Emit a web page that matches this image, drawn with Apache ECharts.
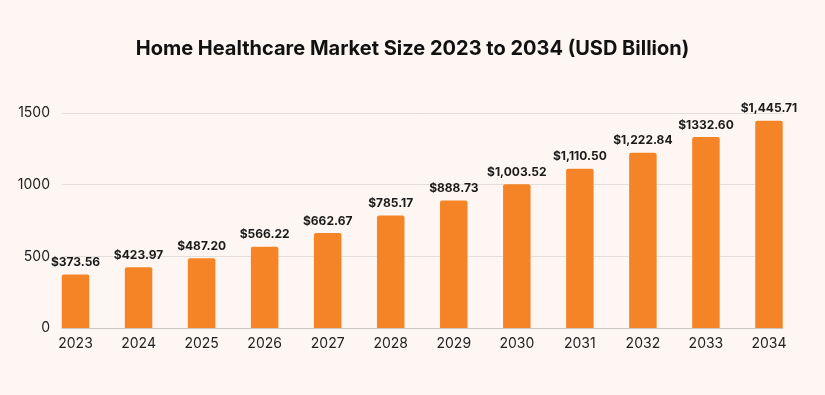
<!DOCTYPE html>
<html>
<head>
<meta charset="utf-8">
<script src="https://cdn.jsdelivr.net/npm/echarts@6/dist/echarts.min.js"></script>
<style>
html,body{margin:0;padding:0;background:#FEF6F3;}
#c{width:825px;height:395px;}
</style>
</head>
<body>
<div id="c"></div>
<script>
const titleText = "Home Healthcare Market Size 2023 to 2034 (USD Billion)";
const years = ["2023","2024","2025","2026","2027","2028","2029","2030","2031","2032","2033","2034"];
const values = [373.56, 423.97, 487.20, 566.22, 662.67, 785.17, 888.73, 1003.52, 1110.50, 1222.84, 1332.60, 1445.71];
const valueLabels = ["$373.56","$423.97","$487.20","$566.22","$662.67","$785.17","$888.73","$1,003.52","$1,110.50","$1,222.84","$1332.60","$1,445.71"];
const yTicks = [0, 500, 1000, 1500];

const chart = echarts.init(document.getElementById('c'), null, {renderer:'canvas'});
const font = 'Inter, "Open Sans", sans-serif';
chart.setOption({
  backgroundColor: '#FEF6F3',
  animation: false,
  title: {
    text: titleText, left: 'center', top: 34,
    textStyle: {fontFamily: font, fontSize: 20, fontWeight: 700, color: '#111111'}
  },
  grid: [
    {left: 44, right: 24.5, top: 113, bottom: 67},
    {left: 62, right: 42, top: 113, bottom: 67}
  ],
  xAxis: [
    {type: 'category', gridIndex: 0, data: years, boundaryGap: true,
     axisLine: {show: false}, axisTick: {show: false},
     axisLabel: {fontFamily: font, fontSize: 14, color: '#222222', margin: 9}},
    {type: 'value', gridIndex: 1, min: 0, max: 1, show: true,
     axisLine: {show: true, lineStyle: {color: '#C8C4C2', width: 1}},
     axisTick: {show: false}, axisLabel: {show: false}, splitLine: {show: false}}
  ],
  yAxis: [
    {type: 'value', gridIndex: 0, min: yTicks[0], max: yTicks[yTicks.length-1], interval: 500, show: false},
    {type: 'value', gridIndex: 1, min: yTicks[0], max: yTicks[yTicks.length-1], interval: 500,
     axisLine: {show: false}, axisTick: {show: false},
     axisLabel: {fontFamily: font, fontSize: 14, color: '#222222', margin: 12,
                 formatter: v => String(v)},
     splitLine: {show: true, lineStyle: {color: '#E2DEDC', width: 1}}}
  ],
  series: [{
    type: 'bar', xAxisIndex: 0, yAxisIndex: 0,
    data: values, barWidth: 27.5,
    itemStyle: {color: '#F58426', borderRadius: [2,2,0,0]},
    z: 5,
    label: {
      show: true, position: 'top', distance: 6,
      formatter: p => valueLabels[p.dataIndex],
      fontFamily: font, fontSize: 12, fontWeight: 700, color: '#1A1A1A'
    }
  }]
});
</script>
</body>
</html>
